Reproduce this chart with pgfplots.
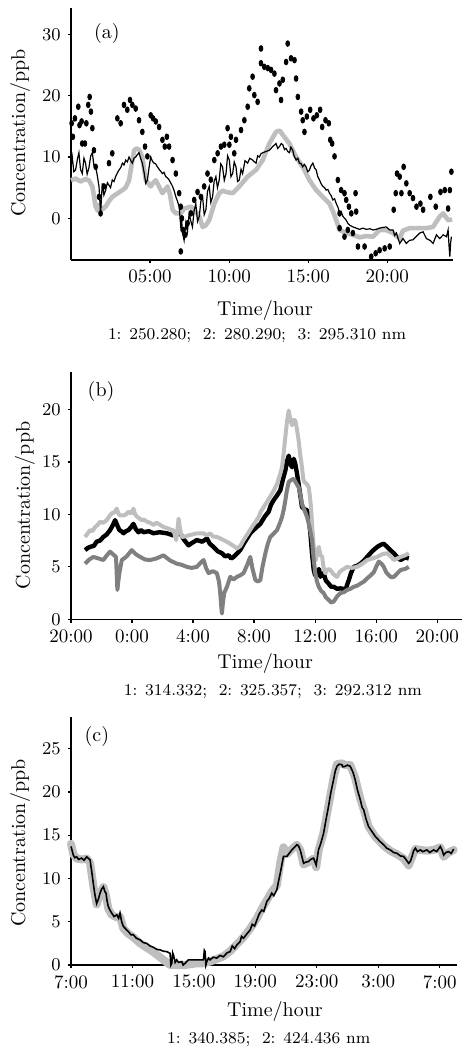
\documentclass[border=0pt]{standalone}
\usepackage{pgfplots}
\pgfplotsset{compat=1.18}
\definecolor{lgray}{RGB}{190,190,190}
\definecolor{dgray}{RGB}{128,128,128}
\pgfplotsset{
  panel/.style={
    scale only axis, axis lines=left, axis line style={-, line width=0.8pt},
    tick align=outside, major tick length=1.6pt, tick style={line width=0.6pt, black},
    tick label style={font=\fontsize{9.5}{11}\selectfont},
    label style={font=\fontsize{10}{12}\selectfont},
    clip=false,
    ylabel={Concentration/ppb}, xlabel={Time/hour},
  },
}
\tikzset{
  sub/.style={font=\fontsize{8.2}{10}\selectfont, anchor=center},
  tag/.style={font=\fontsize{10}{12}\selectfont, anchor=center},
}
\begin{document}
\begin{tikzpicture}
\useasboundingbox (0,0) rectangle (231.5pt,-523pt);
% ---------------- (a) ----------------
\begin{axis}[panel, at={(35.5pt,-130pt)}, anchor=south west,
  width=191pt, height=126pt,
  xmin=0, xmax=24.15, ymin=-6.8, ymax=34.3,
  xtick={5,10,15,20}, xticklabels={05:00,10:00,15:00,20:00},
  ytick={0,10,20,30},
  ylabel style={at={(axis description cs:-0.1335,0.504)}, anchor=center},
  xlabel style={at={(axis description cs:0.508,0)}, anchor=center, yshift=-25pt},
]
\addplot[lgray, line width=2.3pt, line join=round] coordinates {
(0.0,6.2)(0.3,6.5)(0.6,6.0)(0.9,6.4)(1.13,6.2)(1.35,5.2)(1.56,1.9)(1.7,1.2)(1.77,2.2)(2.0,1.5)(2.19,1.9)(2.4,2.8)(2.61,3.5)(2.9,4.0)(3.25,4.6)(3.45,5.0)(3.67,6.2)(3.85,9.0)(3.99,11.1)(4.15,11.4)(4.30,11.2)(4.51,10.0)(4.65,7.5)(4.73,6.2)(5.04,5.2)(5.2,5.8)(5.36,6.2)(5.6,5.0)(5.78,4.1)(6.1,5.2)(6.25,4.0)(6.42,1.4)(6.63,0.8)(6.94,0.8)(7.15,1.6)(7.58,1.9)(7.85,1.2)(8.11,0.3)(8.32,-1.4)(8.5,-1.2)(8.74,-0.3)(9.06,2.4)(9.37,4.1)(9.6,4.5)(9.80,4.3)(10.22,4.1)(10.64,5.2)(11.17,6.8)(11.70,7.9)(12.12,9.5)(12.54,12.2)(12.96,14.1)(13.2,14.3)(13.39,13.6)(13.81,12.2)(14.23,10.0)(14.65,8.4)(15.08,6.2)(15.50,4.6)(15.92,3.5)(16.34,2.4)(16.55,1.2)(16.77,-0.3)(16.98,-1.9)(17.40,-2.4)(17.82,-2.7)(18.24,-3.1)(18.67,-2.9)(19.09,-3.0)(19.51,-1.9)(19.93,-1.9)(20.36,-2.4)(20.78,-3.3)(20.99,-2.0)(21.41,-1.6)(22.05,-1.6)(22.47,-1.6)(22.89,-1.4)(23.31,0.3)(23.53,0.8)(23.84,-0.3)(24.1,-0.2)
};
\addplot[black, line width=0.6pt] coordinates {
(0.0,8.4)(0.08,10.0)(0.18,7.6)(0.29,7.9)(0.4,9.6)(0.50,10.7)(0.6,8.0)(0.71,7.3)(0.82,9.8)(0.92,9.0)(1.02,7.2)(1.13,8.2)(1.25,10.2)(1.35,10.7)(1.45,8.6)(1.56,8.4)(1.66,7.0)(1.77,5.2)(1.87,0.8)(1.98,5.7)(2.08,3.8)(2.19,4.6)(2.3,5.8)(2.40,5.4)(2.5,5.0)(2.61,6.25)(2.72,6.0)(2.82,6.8)(2.93,7.4)(3.04,7.9)(3.15,8.3)(3.25,9.0)(3.35,8.7)(3.46,9.5)(3.56,9.2)(3.67,10.0)(3.78,9.4)(3.88,9.0)(3.98,9.8)(4.09,10.0)(4.2,10.4)(4.30,10.7)(4.4,9.8)(4.51,9.0)(4.62,7.5)(4.73,5.7)(4.83,6.25)(4.93,8.2)(5.04,10.0)(5.15,9.3)(5.25,9.0)(5.35,8.9)(5.46,8.4)(5.6,7.9)(5.78,7.3)(5.88,7.5)(5.99,6.8)(6.1,6.6)(6.20,6.25)(6.3,5.8)(6.42,5.2)(6.52,4.5)(6.63,3.5)(6.73,2.8)(6.84,1.9)(6.89,0.2)(6.94,-1.4)(7.0,-0.5)(7.05,-2.4)(7.15,-3.6)(7.26,-0.8)(7.36,-2.2)(7.47,0.8)(7.57,-0.4)(7.68,-1.4)(7.78,1.2)(7.89,2.4)(8.0,-0.5)(8.11,0.3)(8.21,2.8)(8.32,3.5)(8.42,0.6)(8.53,1.4)(8.63,4.4)(8.74,5.2)(8.84,2.6)(8.95,3.5)(9.05,6.0)(9.16,6.8)(9.26,5.0)(9.37,6.25)(9.47,8.9)(9.58,8.4)(9.69,6.2)(9.80,7.3)(9.9,10.2)(10.01,9.5)(10.11,6.8)(10.22,7.3)(10.32,9.2)(10.43,8.4)(10.53,6.0)(10.64,6.25)(10.75,8.0)(10.85,7.3)(11.0,9.4)(11.17,9.0)(11.3,9.8)(11.48,9.5)(11.6,9.2)(11.70,9.0)(11.8,10.2)(11.91,10.0)(12.0,10.5)(12.12,10.7)(12.33,10.9)(12.54,11.1)(12.75,11.7)(12.96,12.2)(13.07,11.4)(13.18,11.7)(13.29,12.2)(13.39,12.0)(13.5,11.2)(13.60,11.4)(13.7,10.9)(13.81,10.7)(13.9,11.6)(14.02,11.1)(14.1,10.2)(14.23,9.5)(14.34,9.8)(14.44,9.0)(14.55,8.9)(14.65,8.4)(14.75,8.8)(14.86,8.4)(14.97,7.6)(15.08,7.9)(15.18,8.6)(15.29,9.0)(15.4,8.2)(15.50,7.9)(15.6,6.8)(15.71,6.25)(15.82,5.6)(15.92,5.2)(16.03,5.0)(16.13,4.6)(16.24,4.7)(16.34,4.1)(16.45,3.7)(16.55,3.0)(16.66,3.2)(16.77,2.4)(16.88,1.8)(16.98,0.8)(17.08,1.1)(17.19,0.3)(17.3,0.0)(17.40,-0.3)(17.5,-0.8)(17.61,-1.1)(17.82,-1.4)(18.03,-1.6)(18.24,-1.8)(18.45,-1.6)(18.67,-1.8)(18.9,-1.7)(19.09,-1.9)(19.3,-1.8)(19.51,-1.6)(19.7,-1.5)(19.93,-1.4)(20.15,-1.9)(20.36,-1.9)(20.46,-2.8)(20.57,-2.4)(20.78,-4.1)(20.99,-3.3)(21.20,-4.1)(21.4,-3.6)(21.62,-3.5)(21.85,-2.9)(22.05,-2.4)(22.26,-2.2)(22.47,-3.3)(22.7,-3.6)(22.89,-4.1)(23.10,-2.7)(23.31,-3.3)(23.53,-2.7)(23.74,-3.0)(23.84,-1.9)(23.9,-4.5)(23.95,-6.25)(24.0,-4.0)(24.05,-3.0)
};
\addplot[only marks, mark=*, mark size=0.95pt, mark options={black, yscale=1.5}] coordinates {
(0.04,15.5)(0.12,13.3)(0.25,16.3)(0.46,18.2)(0.54,15.2)(0.67,15.8)(0.71,12.2)(0.88,12.2)(0.97,15.5)(1.09,18.5)(1.18,19.8)(1.26,17.4)(1.35,14.7)(1.45,11.1)(1.56,8.4)(1.77,3.5)(1.87,0.8)(2.08,5.2)(2.40,9.0)(2.61,10.6)(2.93,16.3)(3.14,15.5)(3.35,18.5)(3.56,17.7)(3.73,19.3)(3.88,18.5)(4.09,17.9)(4.30,16.0)(4.51,14.1)(4.68,11.7)(4.83,10.1)(5.04,16.8)(5.19,16.3)(5.36,15.8)(5.57,14.9)(5.78,12.8)(5.93,11.7)(6.06,13.3)(6.20,11.7)(6.42,9.5)(6.63,7.3)(6.84,4.1)(6.94,1.9)(7.01,0.0)(7.09,-1.9)(6.94,-5.4)(7.22,-2.7)(7.37,-0.8)(7.58,0.8)(7.79,3.0)(8.00,4.3)(8.21,3.5)(8.42,5.2)(8.63,7.3)(8.84,6.3)(9.06,9.5)(9.27,10.6)(9.48,11.7)(9.69,12.0)(9.90,14.7)(10.01,12.0)(10.11,13.3)(10.32,10.6)(10.43,12.8)(10.75,14.4)(10.96,16.0)(11.17,18.2)(11.27,21.2)(11.48,23.1)(11.59,20.1)(11.80,19.0)(12.01,27.7)(12.01,25.3)(12.22,24.7)(12.44,24.5)(12.65,24.2)(12.86,23.6)(12.96,20.9)(13.18,22.0)(13.28,19.3)(13.39,22.6)(13.60,25.5)(13.70,28.5)(13.91,26.1)(14.13,25.8)(14.23,22.8)(14.34,19.8)(14.55,17.4)(14.65,16.0)(14.76,14.1)(14.91,16.6)(15.12,17.7)(15.33,16.3)(15.54,16.8)(15.75,17.7)(15.88,14.9)(16.09,16.0)(16.30,15.5)(16.39,12.8)(16.51,12.2)(16.66,10.1)(16.87,6.25)(17.08,4.6)(16.98,0.8)(17.29,4.1)(17.40,3.0)(17.57,1.9)(16.98,-1.6)(17.29,-3.0)(17.50,-1.9)(17.72,0.8)(17.99,4.1)(18.03,1.1)(17.82,-2.4)(18.14,-4.6)(18.56,-4.6)(18.98,-6.25)(19.26,-5.7)(19.51,-5.2)(19.83,-4.9)(20.15,-4.6)(20.40,1.4)(20.53,4.1)(20.61,7.3)(20.78,6.8)(20.89,4.1)(21.03,8.4)(21.20,5.7)(21.41,4.1)(21.62,3.3)(21.84,1.9)(22.09,2.4)(22.26,1.4)(22.72,3.5)(23.06,1.9)(23.36,4.3)(23.63,4.6)(23.84,1.6)(23.95,4.6)(24.05,7.6)
};
\node[tag] at (axis description cs:0.094,0.897) {(a)};
\node[sub] at (axis description cs:0.487,0) [yshift=-38pt] {1: 250.280;\ \ 2: 280.290;\ \ 3: 295.310 nm};
\end{axis}
% ---------------- (b) ----------------
\begin{axis}[panel, at={(35.5pt,-309.65pt)}, anchor=south west,
  width=195.3pt, height=123.8pt,
  xmin=20, xmax=45.6, ymin=0, ymax=23.6,
  xtick={20,24,28,32,36,40,44}, xticklabels={20:00,0:00,4:00,8:00,12:00,16:00,20:00},
  ytick={0,5,10,15,20},
  ylabel style={at={(axis description cs:-0.118,0.46)}, anchor=center},
  xlabel style={at={(axis description cs:0.497,0)}, anchor=center, yshift=-22pt},
]
\addplot[black, line width=2.2pt, line join=round] coordinates {
(20.92,6.6)(21.1,6.8)(21.25,6.9)(21.5,7.0)(21.68,7.4)(21.9,7.5)(22.12,7.85)(22.35,8.1)(22.56,8.5)(22.75,9.0)(22.89,9.45)(23.05,8.9)(23.17,8.5)(23.3,8.4)(23.44,8.2)(23.6,8.4)(23.76,8.5)(23.95,8.8)(24.09,9.1)(24.25,8.6)(24.42,8.3)(24.6,8.5)(24.75,8.3)(25.1,8.4)(25.40,8.2)(25.8,8.3)(26.28,8.2)(26.7,8.0)(27.16,8.2)(27.4,7.6)(27.70,7.05)(27.95,7.3)(28.25,7.55)(28.6,7.4)(28.91,7.7)(29.1,7.2)(29.34,6.9)(29.6,6.5)(29.89,6.3)(30.1,6.0)(30.33,6.1)(30.5,5.8)(30.66,5.95)(30.9,6.3)(31.09,6.6)(31.4,7.4)(31.75,8.2)(32.1,8.7)(32.41,9.1)(32.7,9.8)(32.95,10.25)(33.1,10.9)(33.28,11.35)(33.5,11.8)(33.72,12.3)(33.9,13.4)(34.05,14.2)(34.15,15.0)(34.27,15.6)(34.38,14.8)(34.49,14.5)(34.6,15.3)(34.70,14.8)(34.8,14.0)(34.92,12.9)(35.03,11.8)(35.14,10.7)(35.3,10.5)(35.47,10.4)(35.6,9.4)(35.69,8.2)(35.8,6.2)(35.91,4.7)(36.0,4.2)(36.13,4.4)(36.25,4.8)(36.35,4.05)(36.45,4.3)(36.56,4.4)(36.7,3.7)(36.89,3.4)(37.05,3.1)(37.22,3.1)(37.45,2.9)(37.66,2.95)(37.85,2.9)(37.99,2.8)(38.1,3.3)(38.21,3.75)(38.35,4.4)(38.53,5.0)(38.75,5.1)(38.97,5.3)(39.2,5.6)(39.41,5.95)(39.75,6.5)(40.07,6.9)(40.3,7.1)(40.50,7.2)(40.65,7.0)(40.83,6.75)(41.0,6.5)(41.16,6.3)(41.4,5.9)(41.60,5.65)(41.9,5.9)(42.14,5.8)
};
\addplot[lgray, line width=2pt, line join=round] coordinates {
(20.92,7.85)(21.1,8.2)(21.25,8.5)(21.4,8.4)(21.58,8.8)(21.75,9.0)(21.90,9.3)(22.1,9.2)(22.34,9.45)(22.5,9.8)(22.67,10.1)(22.85,10.2)(23.00,10.55)(23.1,10.1)(23.22,9.9)(23.44,9.9)(23.6,10.0)(23.76,10.25)(23.95,10.1)(24.09,10.55)(24.2,10.0)(24.35,9.75)(24.5,9.6)(24.64,9.45)(24.8,9.5)(24.97,9.3)(25.2,9.2)(25.40,9.0)(25.6,9.2)(25.73,9.1)(26.06,8.8)(26.39,8.65)(26.6,8.5)(26.72,8.5)(26.89,7.55)(26.97,8.4)(27.05,9.6)(27.15,8.6)(27.26,7.85)(27.5,7.9)(27.70,8.0)(28.0,8.1)(28.25,8.2)(28.69,8.2)(28.9,8.0)(29.12,8.2)(29.3,7.9)(29.56,7.85)(29.8,7.7)(30.00,7.55)(30.2,7.4)(30.44,7.2)(30.65,7.0)(30.88,6.75)(31.1,7.0)(31.31,7.55)(31.6,8.2)(31.86,8.8)(32.1,9.3)(32.30,9.75)(32.45,10.3)(32.63,10.7)(32.85,11.2)(33.06,11.7)(33.3,12.3)(33.50,12.9)(33.7,13.8)(33.83,14.5)(33.95,16.0)(34.05,17.4)(34.15,18.8)(34.27,19.9)(34.38,19.0)(34.49,18.5)(34.6,19.0)(34.70,18.95)(34.8,18.2)(34.92,17.05)(35.03,15.6)(35.14,14.5)(35.22,13.4)(35.29,13.1)(35.45,12.9)(35.58,12.6)(35.65,11.8)(35.73,10.7)(35.82,8.6)(35.91,6.9)(35.98,5.8)(36.05,5.65)(36.15,6.5)(36.24,6.9)(36.35,6.1)(36.46,5.95)(36.55,5.0)(36.67,4.4)(36.85,4.8)(37.00,4.7)(37.2,4.3)(37.44,4.05)(37.6,4.5)(37.77,4.7)(38.10,5.0)(38.4,4.9)(38.75,5.0)(39.1,5.3)(39.41,5.65)(39.75,5.8)(40.07,5.95)(40.4,6.2)(40.72,6.3)(40.95,6.0)(41.16,5.65)(41.4,5.8)(41.60,5.95)(41.9,6.1)(42.14,6.3)
};
\addplot[dgray, line width=2pt, line join=round] coordinates {
(20.92,5.3)(21.2,5.7)(21.47,5.95)(21.8,5.8)(22.12,5.65)(22.35,6.1)(22.56,6.45)(22.75,6.2)(22.95,5.95)(23.0,4.2)(23.04,2.8)(23.1,3.6)(23.17,4.4)(23.33,5.65)(23.65,6.0)(23.98,6.6)(24.25,6.2)(24.53,5.95)(24.85,5.7)(25.19,5.65)(25.6,5.8)(26.06,6.1)(26.5,5.6)(26.94,5.3)(27.25,5.2)(27.59,5.0)(27.9,4.9)(28.25,5.0)(28.5,5.4)(28.69,5.65)(28.85,4.9)(29.02,4.4)(29.3,4.6)(29.56,4.4)(29.7,3.6)(29.78,2.5)(29.85,1.2)(29.89,0.55)(29.95,1.5)(30.04,2.5)(30.22,3.1)(30.44,4.05)(30.65,3.8)(30.88,4.05)(31.1,4.2)(31.31,4.4)(31.55,5.2)(31.75,5.95)(31.9,4.8)(32.08,3.75)(32.25,3.6)(32.41,3.75)(32.55,5.0)(32.74,6.3)(32.9,7.2)(33.06,7.85)(33.3,8.2)(33.50,8.5)(33.7,9.2)(33.83,9.75)(33.95,10.5)(34.05,11.35)(34.15,12.3)(34.27,13.1)(34.45,13.3)(34.60,13.4)(34.75,13.0)(34.92,12.6)(35.03,11.9)(35.14,11.0)(35.3,10.4)(35.47,9.75)(35.63,8.8)(35.80,7.55)(35.9,5.8)(36.01,4.4)(36.12,3.6)(36.24,3.1)(36.4,2.7)(36.56,2.5)(36.7,2.1)(36.89,1.85)(37.05,1.6)(37.22,1.7)(37.45,2.2)(37.66,2.5)(37.9,2.6)(38.10,2.8)(38.3,2.9)(38.53,3.1)(38.75,3.2)(38.97,3.4)(39.2,3.6)(39.41,3.9)(39.65,4.2)(39.85,4.5)(40.0,5.0)(40.17,5.5)(40.35,5.3)(40.50,5.0)(40.65,4.5)(40.83,4.2)(41.0,4.0)(41.16,4.05)(41.4,4.4)(41.60,4.7)(41.9,4.8)(42.14,5.0)
};
\node[tag] at (axis description cs:0.077,0.919) {(b)};
\node[sub] at (axis description cs:0.517,0) [yshift=-36.2pt] {1: 314.332;\ \ 2: 325.357;\ \ 3: 292.312 nm};
\end{axis}
% ---------------- (c) ----------------
\begin{axis}[panel, at={(35.5pt,-482.5pt)}, anchor=south west,
  width=192.8pt, height=124.2pt,
  xmin=7, xmax=32.1, ymin=0, ymax=28.7,
  xtick={7,11,15,19,23,27,31}, xticklabels={7:00,11:00,15:00,19:00,23:00,3:00,7:00},
  ytick={0,5,10,15,20,25},
  ylabel style={at={(axis description cs:-0.132,0.49)}, anchor=center},
  xlabel style={at={(axis description cs:0.529,0)}, anchor=center, yshift=-23.3pt},
]
\addplot[lgray, line width=4pt, line join=round, line cap=round] coordinates {
(7.0,14.0)(7.15,12.8)(7.37,12.3)(7.69,12.2)(8.02,12.3)(8.24,11.8)(8.45,9.2)(8.67,7.0)(8.89,8.2)(9.11,9.0)(9.28,8.0)(9.43,6.5)(9.65,5.8)(9.98,5.5)(10.19,5.6)(10.41,4.2)(10.74,3.6)(11.06,3.2)(11.50,2.5)(11.93,2.0)(12.36,1.5)(12.80,0.9)(13.23,0.3)(13.45,0.0)(13.88,0.0)(14.43,0.0)(15.19,0.2)(15.62,0.2)(16.06,0.4)(16.49,0.7)(16.92,1.0)(17.36,1.6)(17.79,2.4)(18.23,3.2)(18.66,4.2)(19.10,5.4)(19.42,6.5)(19.75,7.5)(20.07,8.5)(20.40,9.2)(20.62,11.8)(20.83,13.6)(21.05,12.8)(21.38,13.4)(21.70,13.9)(21.92,13.3)(22.14,11.6)(22.46,11.9)(22.79,12.3)(22.96,11.3)(23.11,13.2)(23.44,15.3)(23.76,18.4)(24.09,21.6)(24.31,23.2)(24.63,23.3)(24.85,23.1)(25.18,23.1)(25.50,21.6)(25.83,19.2)(26.05,18.0)(26.37,16.0)(26.81,14.8)(27.35,13.8)(27.78,13.2)(28.22,12.8)(28.65,12.3)(28.98,11.5)(29.20,12.5)(29.42,13.4)(29.74,13.3)(30.17,13.2)(30.61,13.3)(31.04,13.6)(31.26,12.5)(31.58,13.0)(31.91,13.3)
};
\addplot[black, line width=0.8pt] coordinates {
(7.0,13.7)(7.15,12.7)(7.25,12.4)(7.37,12.5)(7.5,12.2)(7.69,12.35)(7.85,12.1)(8.02,12.5)(8.24,12.15)(8.35,10.8)(8.45,9.45)(8.55,8.2)(8.67,7.1)(8.78,7.6)(8.89,8.3)(9.0,8.8)(9.11,9.05)(9.2,8.5)(9.28,8.3)(9.35,7.4)(9.43,6.75)(9.55,6.3)(9.65,6.0)(9.8,5.6)(9.98,5.8)(10.1,5.4)(10.19,6.0)(10.3,5.0)(10.41,4.45)(10.55,4.2)(10.74,3.85)(10.9,3.5)(11.06,3.5)(11.25,3.1)(11.50,2.9)(11.7,2.6)(11.93,2.5)(12.15,2.2)(12.36,2.05)(12.6,1.8)(12.80,1.75)(13.0,1.6)(13.23,1.55)(13.45,1.35)(13.5,0.0)(13.56,0.2)(13.62,1.4)(13.67,1.15)(13.78,0.3)(13.88,0.6)(14.0,0.3)(14.21,0.4)(14.3,0.0)(14.43,0.2)(14.64,0.6)(15.19,0.6)(15.62,0.6)(15.68,1.7)(15.73,1.55)(15.78,0.0)(15.84,0.4)(15.95,0.8)(16.06,0.6)(16.25,0.9)(16.49,0.8)(16.7,1.1)(16.92,0.95)(17.15,1.4)(17.36,1.55)(17.5,2.2)(17.65,1.9)(17.79,2.3)(18.01,2.7)(18.1,3.3)(18.23,3.1)(18.45,3.6)(18.66,4.05)(18.8,4.7)(18.95,4.5)(19.10,5.2)(19.25,5.9)(19.42,6.35)(19.55,6.2)(19.75,7.35)(19.9,7.7)(20.07,8.3)(20.2,8.0)(20.40,8.7)(20.5,9.6)(20.62,10.6)(20.83,12.55)(21.05,12.55)(21.2,12.9)(21.38,13.3)(21.55,13.6)(21.70,13.9)(21.8,13.8)(21.92,13.3)(22.14,11.75)(22.3,11.9)(22.46,11.95)(22.6,12.2)(22.79,12.35)(22.96,11.55)(23.11,13.3)(23.25,14.0)(23.44,15.2)(23.6,16.8)(23.76,18.3)(23.9,19.8)(24.09,21.4)(24.2,22.4)(24.31,22.95)(24.45,23.2)(24.63,23.15)(24.7,22.9)(24.85,22.95)(25.0,23.1)(25.18,22.95)(25.35,22.3)(25.50,21.4)(25.65,20.2)(25.83,19.1)(25.95,18.2)(26.05,17.95)(26.2,16.9)(26.37,16.0)(26.6,15.4)(26.81,14.85)(27.1,14.3)(27.35,13.9)(27.55,13.5)(27.78,13.3)(28.0,13.0)(28.22,12.9)(28.45,12.6)(28.65,12.55)(28.8,12.2)(28.98,11.75)(29.1,12.0)(29.20,12.55)(29.3,13.2)(29.42,13.5)(29.55,13.1)(29.74,13.3)(29.9,13.1)(30.17,13.3)(30.35,13.0)(30.61,13.3)(30.8,13.1)(31.04,13.7)(31.15,13.3)(31.26,12.7)(31.4,13.0)(31.58,13.1)(31.75,12.9)(31.91,13.4)
};
\node[tag] at (axis description cs:0.067,0.919) {(c)};
\node[sub] at (axis description cs:0.513,0) [yshift=-37.5pt] {1: 340.385;\ \ 2: 424.436 nm};
\end{axis}
\end{tikzpicture}
\end{document}
